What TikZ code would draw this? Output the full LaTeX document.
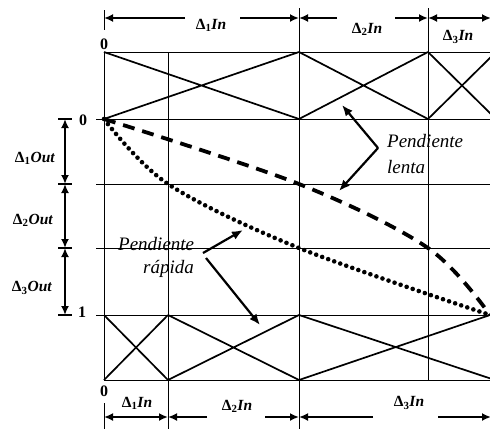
\documentclass[tikz,border=0pt]{standalone}
\usepackage{fontspec}
\setmainfont{Liberation Serif}
\usetikzlibrary{arrows.meta}
\tikzset{
  gridline/.style={line width=1pt},
  xline/.style={line width=1.7pt},
  dimarrow/.style={line width=2.4pt,-{Latex[length=9pt,width=8pt]}},
  dimboth/.style={line width=2.4pt,{Latex[length=9pt,width=8pt]}-{Latex[length=9pt,width=8pt]}},
  callout/.style={line width=2.2pt,-{Latex[length=11pt,width=9pt]}},
  dimlabel/.style={font=\fontsize{15.5}{16}\selectfont\bfseries, inner sep=0pt},
  numlabel/.style={font=\fontsize{16}{17}\selectfont\bfseries, inner sep=0pt},
  notelabel/.style={font=\fontsize{19}{20}\selectfont\itshape, inner sep=0pt, anchor=base west},
}
\newcommand{\dIn}[1]{Δ\textsubscript{#1}\textit{In}}
\newcommand{\dOut}[1]{Δ\textsubscript{#1}\textit{Out}}
\begin{document}
\begin{tikzpicture}[x=1pt,y=-1pt]
\useasboundingbox (0,0) rectangle (490,429);
\clip (0,0) rectangle (490,429);
% key coordinates
\coordinate (t0) at (104,52);  \coordinate (t1) at (168,52);  \coordinate (t2) at (299,52);  \coordinate (t3) at (428,52);  \coordinate (t4) at (496,52);
\coordinate (u0) at (104,119); \coordinate (u1) at (168,119); \coordinate (u2) at (299,119); \coordinate (u3) at (428,119); \coordinate (u4) at (496,119);
\coordinate (b0) at (104,315); \coordinate (b1) at (168,315); \coordinate (b2) at (299,315); \coordinate (b3) at (428,315); \coordinate (bend) at (490,315);
\coordinate (c0) at (104,380); \coordinate (c1) at (168,380); \coordinate (c2) at (299,380); \coordinate (c3) at (428,380); \coordinate (c4) at (495,380);

% grid
\draw[gridline] (t0) -- (t4);
\draw[gridline] (c0) -- (c4);
\foreach \y in {119,184,248,315} \draw[gridline] (96,\y) -- (496,\y);
\draw[gridline] (t0) -- (c0);
\draw[gridline] (t1) -- (168,429);
\draw[gridline] (299,8) -- (299,429);
\draw[gridline] (428,8) -- (c3);
\draw[gridline] (104,10) -- (104,30);
\draw[gridline] (104,403) -- (104,429);

% top X pattern
\draw[xline] (t0) -- (u2) (u0) -- (t2);
\draw[xline] (t2) -- (u3) (u2) -- (t3);
\draw[xline] (t3) -- (u4) (u3) -- (t4);
% bottom X pattern
\draw[xline] (b0) -- (c1) (c0) -- (b1);
\draw[xline] (b1) -- (c2) (c1) -- (b2);
\draw[xline] (b2) -- (c4) (c2) -- (bend);

% curves
\draw[line width=3.8pt, dash pattern=on 12pt off 8pt]
  plot[smooth, tension=0.55] coordinates {(104,119) (299,184) (428,248) (490,315)};
\draw[line width=4.6pt, line cap=round, dash pattern=on 0pt off 6.4pt]
  plot[smooth, tension=0.55] coordinates {(104,119) (168,184) (299,248) (490,315)};

% labels: numbers
\node[numlabel] (zt) at (104,44) {0};
\node[numlabel] (zl) at (83,120) {0};
\node[numlabel] (ol) at (82,312) {1};
\node[numlabel] (zb) at (104,391) {0};

% top dimension arrows
\coordinate (ta0) at (104,18); \coordinate (ta1) at (185,18); \coordinate (ta2) at (240,18);
\coordinate (ta3) at (299,18); \coordinate (ta4) at (337,18); \coordinate (ta5) at (395,18);
\coordinate (ta6) at (428,18); \coordinate (ta7) at (491,18);
\draw[dimarrow] (ta1) -- (ta0);
\draw[dimarrow] (ta2) -- (ta3);
\draw[dimarrow] (ta4) -- (ta3);
\draw[dimarrow] (ta5) -- (ta6);
\draw[dimboth] (ta6) -- (ta7);
\node[dimlabel] (ti1) at (211,25) {\dIn{1}};
\node[dimlabel] (ti2) at (367,29) {\dIn{2}};
\node[dimlabel] (ti3) at (458,37) {\dIn{3}};

% bottom dimension arrows
\coordinate (ba0) at (104,417); \coordinate (ba1) at (168,417); \coordinate (ba2) at (207,417);
\coordinate (ba3) at (265,417); \coordinate (ba4) at (299,417); \coordinate (ba5) at (373,417);
\coordinate (ba6) at (438,417); \coordinate (ba7) at (491,417);
\draw[dimboth] (ba0) -- (ba1);
\draw[dimarrow] (ba2) -- (ba1);
\draw[dimarrow] (ba3) -- (ba4);
\draw[dimarrow] (ba5) -- (ba4);
\draw[dimarrow] (ba6) -- (ba7);
\node[dimlabel] (bi1) at (137,403) {\dIn{1}};
\node[dimlabel] (bi2) at (237,406) {\dIn{2}};
\node[dimlabel] (bi3) at (409,403) {\dIn{3}};

% left dimension arrows
\coordinate (la0) at (65,119); \coordinate (la1) at (65,184); \coordinate (la2) at (65,248); \coordinate (la3) at (65,315);
\foreach \y in {119,184,248,315} \draw[line width=1.4pt] (58,\y) -- (72,\y);
\draw[dimboth] (la0) -- (la1);
\draw[dimboth] (la1) -- (la2);
\draw[dimboth] (la2) -- (la3);
\node[dimlabel] (lo1) at (35,158) {\dOut{1}};
\node[dimlabel] (lo2) at (33,220) {\dOut{2}};
\node[dimlabel] (lo3) at (32,288) {\dOut{3}};

% notes
\node[notelabel] (pl1) at (387,147) {Pendiente};
\node[notelabel] (pl2) at (387,173) {lenta};
\coordinate (plk) at (378,148);
\coordinate (plh1) at (342,105);
\coordinate (plh2) at (339,191);
\draw[callout] (plk) -- (plh1);
\draw[callout] (plk) -- (plh2);

\node[notelabel] (pr1) at (118,250) {Pendiente};
\node[notelabel] (pr2) at (143,273) {rápida};
\coordinate (prk1) at (203,253);
\coordinate (prk2) at (206,258);
\coordinate (prh1) at (243,230);
\coordinate (prh2) at (260,325);
\draw[callout] (prk1) -- (prh1);
\draw[callout] (prk2) -- (prh2);
\end{tikzpicture}
\end{document}
